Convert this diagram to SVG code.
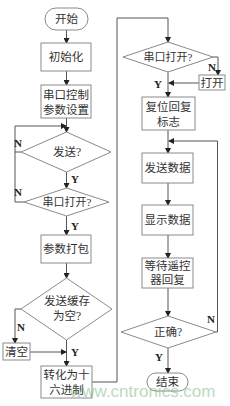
<svg xmlns="http://www.w3.org/2000/svg" width="230" height="406" viewBox="0 0 230 406">
<style>
.box{fill:#fff;stroke:#8a8a8a;stroke-width:1}
.ln{fill:none;stroke:#555;stroke-width:1}
.t{font-family:"Liberation Serif","Noto Sans CJK SC",serif;font-size:11.5px;fill:#333;text-anchor:middle}
.l{font-family:"Liberation Serif",serif;font-size:11px;fill:#222;font-weight:bold;text-anchor:middle}
</style>
<defs>
<marker id="a" markerWidth="6" markerHeight="6" refX="5" refY="3" orient="auto" markerUnits="userSpaceOnUse">
<path d="M0,0 L6,3 L0,6 Z" fill="#222"/>
</marker>
</defs>
<rect x="0" y="0" width="230" height="406" fill="#fff"/>
<g id="connectors">
<path class="ln" d="M66.5,30 V43" marker-end="url(#a)"/>
<path class="ln" d="M66.5,71 V85" marker-end="url(#a)"/>
<path class="ln" d="M66.5,118 V132" marker-end="url(#a)"/>
<path class="ln" d="M21,152 H15 M24,202 H15 M15,202 V126 H66" marker-end="url(#a)"/>
<path class="ln" d="M66.5,172 V188" marker-end="url(#a)"/>
<path class="ln" d="M66.5,216 V235" marker-end="url(#a)"/>
<path class="ln" d="M66.5,263 V278" marker-end="url(#a)"/>
<path class="ln" d="M21,309 H15 V343" marker-end="url(#a)"/>
<path class="ln" d="M30,352 H66" marker-end="url(#a)"/>
<path class="ln" d="M66.5,340 V366" marker-end="url(#a)"/>
<path class="ln" d="M92,382 H117 V18 H168 V42" marker-end="url(#a)"/>
<path class="ln" d="M213,57 H218 V75" marker-end="url(#a)"/>
<path class="ln" d="M199,83 H169" marker-end="url(#a)"/>
<path class="ln" d="M168,72 V97" marker-end="url(#a)"/>
<path class="ln" d="M168,130 V153" marker-end="url(#a)"/>
<path class="ln" d="M216,332 H217.5 V141 H169" marker-end="url(#a)"/>
<path class="ln" d="M168,183 V205" marker-end="url(#a)"/>
<path class="ln" d="M168,235 V258" marker-end="url(#a)"/>
<path class="ln" d="M168,288 V316" marker-end="url(#a)"/>
<path class="ln" d="M168,348 V373" marker-end="url(#a)"/>
</g>
<g id="labels">
<text class="l" x="18" y="147">N</text>
<text class="l" x="18" y="196">N</text>
<text class="l" x="75" y="183">Y</text>
<text class="l" x="75" y="230">Y</text>
<text class="l" x="21" y="331">N</text>
<text class="l" x="75" y="356">Y</text>
<text class="l" x="212" y="71">N</text>
<text class="l" x="158" y="88">Y</text>
<text class="l" x="211" y="323">N</text>
<text class="l" x="159" y="361">Y</text>
</g>
<g id="start"><rect class="box" x="45" y="8" width="43" height="22" rx="11"/><text class="t" x="66.5" y="23">开始</text></g>
<g id="init"><rect class="box" x="41" y="43" width="50" height="28"/><text class="t" x="66" y="61">初始化</text></g>
<g id="serialcfg"><rect class="box" x="41" y="85" width="50" height="33"/><text class="t" x="66" y="99">串口控制</text><text class="t" x="66" y="114">参数设置</text></g>
<g id="send"><polygon class="box" points="66.5,132 111,152 66.5,172 21,152"/><text class="t" x="67" y="156">发送?</text></g>
<g id="open1"><polygon class="box" points="66.5,188 109,202 66.5,216 24,202"/><text class="t" x="67" y="206" style="font-size:11px">串口打开?</text></g>
<g id="pack"><rect class="box" x="41" y="235" width="50" height="28"/><text class="t" x="66" y="253">参数打包</text></g>
<g id="bufempty"><polygon class="box" points="66.5,278 112,309 66.5,340 21,309"/><text class="t" x="67" y="305">发送缓存</text><text class="t" x="67" y="320">为空?</text></g>
<g id="clear"><rect class="box" x="3" y="343" width="27" height="17"/><text class="t" x="16.5" y="356">清空</text></g>
<g id="hex"><rect class="box" x="41" y="366" width="51" height="32"/><text class="t" x="66.5" y="379">转化为十</text><text class="t" x="66.5" y="394">六进制</text></g>
<g id="open2"><polygon class="box" points="168,42 213,57 168,72 123,57"/><text class="t" x="168" y="61" style="font-size:11px">串口打开?</text></g>
<g id="open"><rect class="box" x="199" y="75" width="26" height="15"/><text class="t" x="212" y="87">打开</text></g>
<g id="reset"><rect class="box" x="142" y="97" width="53" height="33"/><text class="t" x="168.5" y="111">复位回复</text><text class="t" x="168.5" y="126">标志</text></g>
<g id="senddata"><rect class="box" x="142" y="153" width="51" height="30"/><text class="t" x="167.5" y="172">发送数据</text></g>
<g id="show"><rect class="box" x="142" y="205" width="51" height="30"/><text class="t" x="167.5" y="224">显示数据</text></g>
<g id="wait"><rect class="box" x="142" y="258" width="51" height="30"/><text class="t" x="167.5" y="270">等待遥控</text><text class="t" x="167.5" y="284">器回复</text></g>
<g id="ok"><polygon class="box" points="168,316 216,332 168,348 121,332"/><text class="t" x="168" y="336">正确?</text></g>
<g id="end"><rect class="box" x="147" y="373" width="41" height="18" rx="9"/><text class="t" x="167.5" y="386">结束</text></g>
<text x="70" y="397" style="font-family:'Liberation Sans',sans-serif;font-size:17px;fill:#6aae6a;opacity:0.45">www.cntronics.com</text>
</svg>
